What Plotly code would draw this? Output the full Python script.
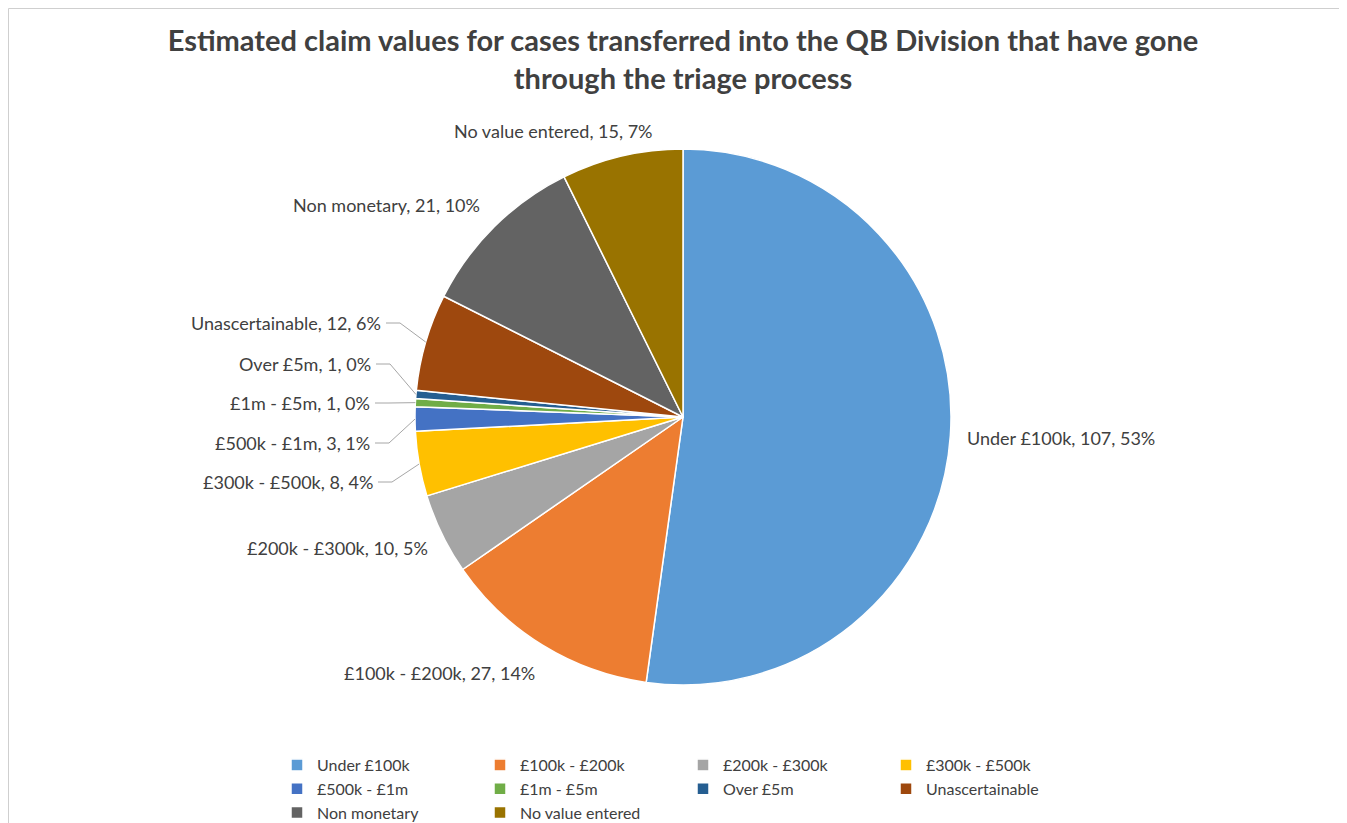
import math
import plotly.graph_objects as go

categories = ["Under £100k", "£100k - £200k", "£200k - £300k", "£300k - £500k",
              "£500k - £1m", "£1m - £5m", "Over £5m", "Unascertainable",
              "Non monetary", "No value entered"]
counts = [107, 27, 10, 8, 3, 1, 1, 12, 21, 15]
percent_labels = ["53%", "14%", "5%", "4%", "1%", "0%", "0%", "6%", "10%", "7%"]
colors = ["#5B9BD5", "#ED7D31", "#A5A5A5", "#FFC000", "#4472C4",
          "#70AD47", "#255E91", "#9E480E", "#636363", "#997300"]

# data-label placement (page-pixel anchor of the text, side it hangs from, leader line?)
label_anchor_x = [965, 537, 430, 375, 372, 372, 373, 383, 482, 655]
label_anchor_y = [438, 673, 548, 482, 443, 403, 364, 323, 205, 131]
label_side = ["left", "right", "right", "right", "right", "right", "right", "right", "right", "right"]
label_leader = [False, False, False, True, True, True, True, True, False, False]

W, H = 1347, 823
OFF = 8  # page body margin: figure origin sits at (8, 8) on the page
ML, MR, MT, MB = 262, W - 1112, 0, 0
PW, PH = W - ML - MR, H - MT - MB

# pie geometry in page pixels
CX, CY, R = 683, 417, 268


def px_x(x):
    return (x - OFF - ML) / PW


def px_y(y):
    return 1 - (y - OFF - MT) / PH


font_family = "Lato, 'Open Sans', sans-serif"
txt_color = "#404040"

fig = go.Figure(go.Pie(
    labels=categories,
    values=counts,
    text=percent_labels,
    textinfo="none",
    sort=False,
    direction="clockwise",
    rotation=0,
    marker=dict(colors=colors, line=dict(color="white", width=1.5)),
    domain=dict(x=[px_x(CX - R), px_x(CX + R)], y=[px_y(CY + R), px_y(CY - R)]),
    hovertemplate="%{label}, %{value}, %{text}<extra></extra>",
))

annotations = []
shapes = [dict(type="rect", xref="paper", yref="paper",
               x0=px_x(8.5), x1=px_x(1370), y0=px_y(850), y1=px_y(8.5),
               line=dict(color="#CFCFCF", width=1), layer="below")]

total = sum(counts)
cum = 0
for i, (cat, v, p) in enumerate(zip(categories, counts, percent_labels)):
    mid = (cum + v / 2) / total * 2 * math.pi
    cum += v
    ax, ay = label_anchor_x[i], label_anchor_y[i]
    annotations.append(dict(
        x=px_x(ax), y=px_y(ay), xref="paper", yref="paper",
        text=f"{cat}, {v}, {p}", showarrow=False,
        xanchor=label_side[i], yanchor="middle",
        font=dict(family=font_family, size=18, color=txt_color),
    ))
    if label_leader[i]:
        rx = CX + R * math.sin(mid)
        ry = CY - R * math.cos(mid)
        x0 = ax + 3
        x1 = ax + 17
        path = (f"M {px_x(x0)},{px_y(ay)} L {px_x(x1)},{px_y(ay)} "
                f"L {px_x(rx)},{px_y(ry)}")
        shapes.append(dict(type="path", xref="paper", yref="paper", path=path,
                           line=dict(color="#A6A6A6", width=1)))

fig.update_layout(
    width=W, height=H,
    margin=dict(l=ML, r=MR, t=MT, b=MB, autoexpand=False),
    paper_bgcolor="white", plot_bgcolor="white",
    title=dict(
        text="Estimated claim values for cases transferred into the QB Division that have gone<br>through the triage process",
        x=(683 - OFF) / W, xanchor="center", xref="container",
        y=1 - 43 / H, yanchor="top", yref="container",
        font=dict(family=font_family, size=29, color=txt_color, weight="bold"),
    ),
    legend=dict(
        orientation="h",
        x=px_x(277), xanchor="left",
        y=px_y(748), yanchor="top",
        entrywidth=158, entrywidthmode="pixels",
        font=dict(family=font_family, size=16, color=txt_color),
        itemwidth=30,
    ),
    annotations=annotations,
    shapes=shapes,
)

fig.write_html("out.html")
